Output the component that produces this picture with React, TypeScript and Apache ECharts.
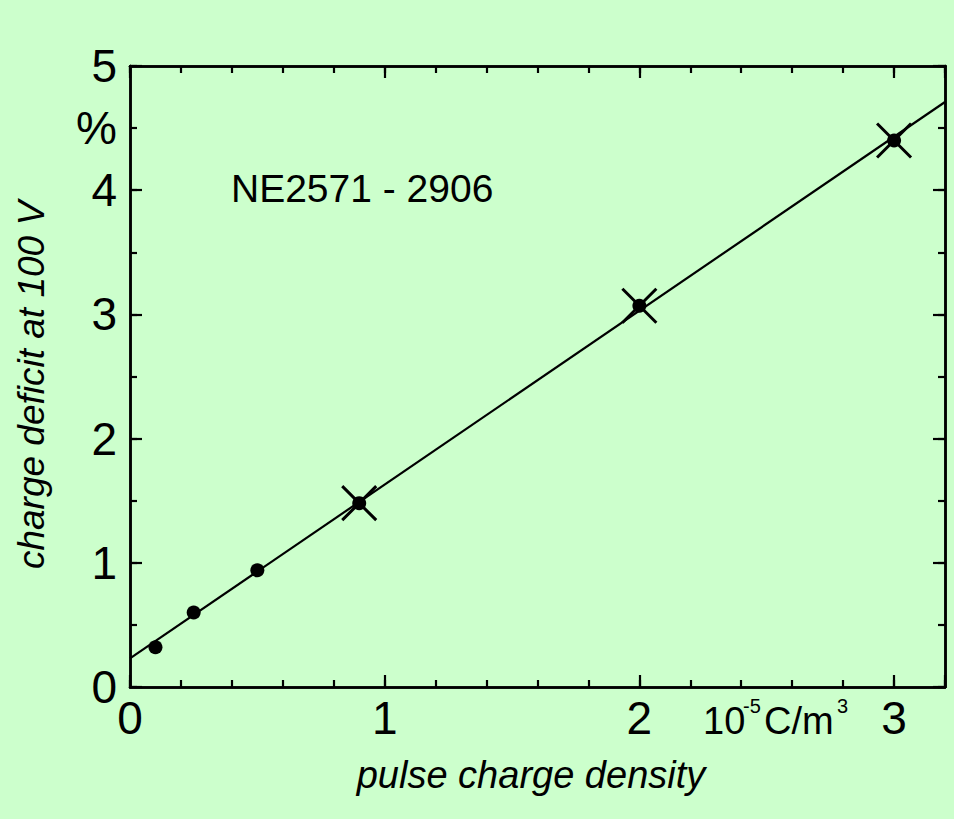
import React, { useEffect, useRef } from 'react';
import * as echarts from 'echarts';

// ---- data ----
const pointX = [0.1, 0.25, 0.5, 0.9, 2.0, 3.0];
const pointY = [0.32, 0.6, 0.94, 1.48, 3.07, 4.4];
const crossX = [0.9, 2.0, 3.0];
const crossY = [1.48, 3.07, 4.4];
const fitX = [0, 3.2];
const fitY = [0.23, 4.71];
const xLabels = ['0', '1', '2', '3'];
const yLabels = ['0', '1', '2', '3', '4', '5'];
const yUnitLabel = '%';
const yUnitAt = 4.5;
const title = 'NE2571 - 2906';
const xTitle = 'pulse charge density';
const yTitle = 'charge deficit at 100 V';

const FONT = '"Liberation Sans", Arial, Helvetica, sans-serif';
const BG = '#ccffcc';

export default function App() {
  const ref = useRef<HTMLDivElement>(null);
  useEffect(() => {
    if (!ref.current) return;
    const chart = echarts.init(ref.current, undefined, { renderer: 'svg' });
    const axisLine = { show: true, onZero: false, lineStyle: { color: '#000', width: 2.5 } };
    const majorTick = { show: true, inside: true, length: 12, lineStyle: { color: '#000', width: 2.2 } };
    const minorTick = { show: true, inside: true, length: 7, lineStyle: { color: '#000', width: 2.2 } };
    const noLabel = { show: false };
    const xBase = { type: 'value', min: 0, max: 3.2, splitLine: { show: false } };
    const yBase = { type: 'value', min: 0, max: 5, splitLine: { show: false } };
    const option: any = {
      backgroundColor: BG,
      animation: false,
      grid: { left: 130, right: 9, top: 66, bottom: 132, containLabel: false },
      xAxis: [
        {
          ...xBase, position: 'bottom', interval: 1, axisLine, axisTick: majorTick,
          axisLabel: {
            show: true, margin: 8, color: '#000', fontSize: 46, fontFamily: FONT,
            formatter: (v: number) => {
              const i = Math.round(v);
              return Math.abs(v - i) < 1e-9 && i < xLabels.length ? xLabels[i] : '';
            },
          },
        },
        { ...xBase, position: 'bottom', interval: 0.2, axisLine, axisTick: minorTick, axisLabel: noLabel },
        { ...xBase, position: 'top', interval: 1, axisLine, axisTick: majorTick, axisLabel: noLabel },
        { ...xBase, position: 'top', interval: 0.2, axisLine, axisTick: minorTick, axisLabel: noLabel },
      ],
      yAxis: [
        {
          ...yBase, position: 'left', interval: 1, axisLine, axisTick: majorTick,
          axisLabel: {
            show: true, margin: 13, color: '#000', fontSize: 46, fontFamily: FONT,
            formatter: (v: number) => {
              const i = Math.round(v);
              return Math.abs(v - i) < 1e-9 && i < yLabels.length ? yLabels[i] : '';
            },
          },
        },
        {
          ...yBase, position: 'left', interval: 0.5, axisLine, axisTick: minorTick,
          axisLabel: {
            show: true, margin: 13, color: '#000', fontSize: 46, fontFamily: FONT,
            formatter: (v: number) => (Math.abs(v - yUnitAt) < 1e-9 ? yUnitLabel : ''),
          },
        },
        { ...yBase, position: 'right', interval: 1, axisLine, axisTick: majorTick, axisLabel: noLabel },
        { ...yBase, position: 'right', interval: 0.5, axisLine, axisTick: minorTick, axisLabel: noLabel },
      ],
      series: [
        {
          type: 'line',
          data: fitX.map((x, i) => [x, fitY[i]]),
          showSymbol: false,
          symbol: 'none',
          lineStyle: { color: '#000', width: 2.2 },
          z: 2,
        },
        {
          type: 'scatter',
          data: pointX.map((x, i) => [x, pointY[i]]),
          symbol: 'circle',
          symbolSize: 14,
          itemStyle: { color: '#000', opacity: 1 },
          z: 3,
        },
        {
          type: 'scatter',
          data: crossX.map((x, i) => [x, crossY[i]]),
          symbol: 'path://M0,0L10,10M10,0L0,10',
          symbolSize: 34,
          itemStyle: { color: 'none', borderColor: '#000', borderWidth: 3, opacity: 1 },
          z: 4,
        },
      ],
      graphic: [
        {
          type: 'text', x: 231, y: 188,
          style: { text: title, font: `39px ${FONT}`, fill: '#000', textAlign: 'left', textVerticalAlign: 'middle' },
        },
        {
          type: 'text', x: 531, y: 775,
          style: { text: xTitle, font: `italic 38px ${FONT}`, fill: '#000', textAlign: 'center', textVerticalAlign: 'middle' },
        },
        {
          type: 'text', x: 31, y: 385, rotation: Math.PI / 2,
          style: { text: yTitle, font: `italic 37px ${FONT}`, fill: '#000', textAlign: 'center', textVerticalAlign: 'middle' },
        },
        {
          type: 'text', x: 703, y: 721,
          style: { text: '10', font: `38px ${FONT}`, fill: '#000', textAlign: 'left', textVerticalAlign: 'middle' },
        },
        {
          type: 'text', x: 743, y: 706,
          style: { text: '-5', font: `20px ${FONT}`, fill: '#000', textAlign: 'left', textVerticalAlign: 'middle' },
        },
        {
          type: 'text', x: 764, y: 721,
          style: { text: 'C/m', font: `38px ${FONT}`, fill: '#000', textAlign: 'left', textVerticalAlign: 'middle' },
        },
        {
          type: 'text', x: 837, y: 706,
          style: { text: '3', font: `20px ${FONT}`, fill: '#000', textAlign: 'left', textVerticalAlign: 'middle' },
        },
      ],
    };
    chart.setOption(option);
    return () => chart.dispose();
  }, []);
  return (
    <div
      ref={ref}
      style={{ position: 'fixed', left: 0, top: 0, width: 954, height: 819, background: BG }}
    />
  );
}
